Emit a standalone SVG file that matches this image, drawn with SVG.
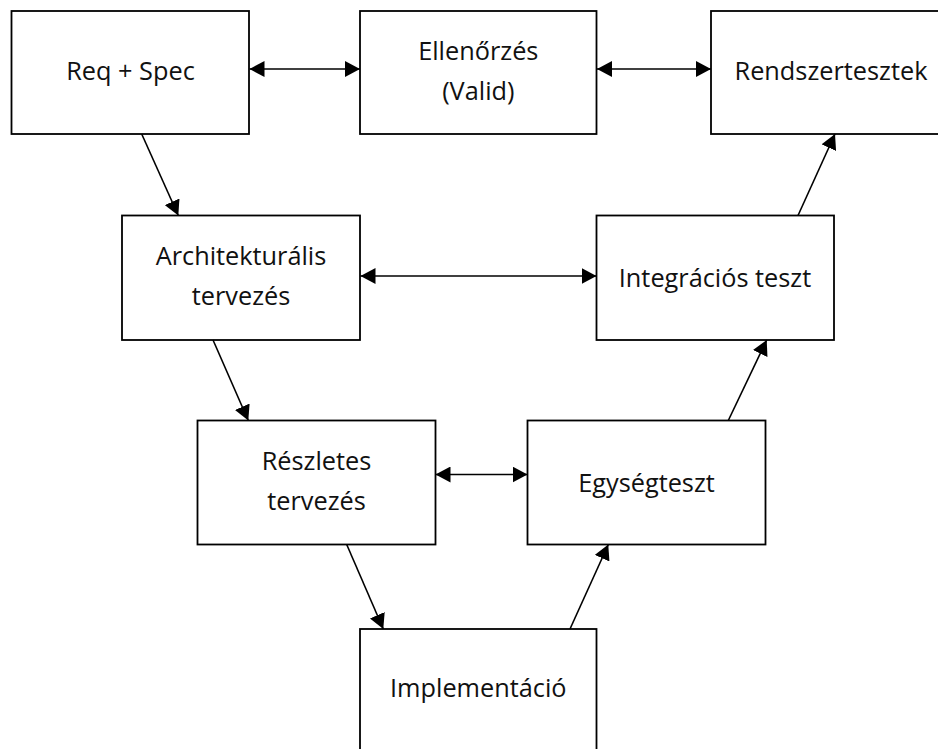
<svg xmlns="http://www.w3.org/2000/svg" width="938" height="749" viewBox="0 0 938 749">
  <style>
    .box { fill: #ffffff; stroke: #000000; stroke-width: 1.8; }
    .lbl { font-family: "Open Sans", "Noto Sans", "Liberation Sans", sans-serif; font-size: 25.3px; fill: #111111; text-anchor: middle; }
    .edge { stroke: #000000; stroke-width: 1.6; fill: none; }
    .one { marker-end: url(#head); }
    .two { marker-start: url(#tail); marker-end: url(#head); }
  </style>
  <defs>
    <marker id="head" viewBox="0 0 15 16" refX="15" refY="8" markerWidth="15" markerHeight="16" markerUnits="userSpaceOnUse" orient="auto">
      <path d="M0,0 L15,8 L0,16 Z" fill="#000000"/>
    </marker>
    <marker id="tail" viewBox="0 0 15 16" refX="0" refY="8" markerWidth="15" markerHeight="16" markerUnits="userSpaceOnUse" orient="auto">
      <path d="M15,0 L0,8 L15,16 Z" fill="#000000"/>
    </marker>
  </defs>
  <rect width="938" height="749" fill="#ffffff"/>

  <g id="req-spec">
    <rect class="box" x="11.5" y="11" width="237.5" height="123"/>
    <text class="lbl" x="130.5" y="80">Req + Spec</text>
  </g>
  <g id="ellenorzes">
    <rect class="box" x="360" y="11" width="236.5" height="123"/>
    <text class="lbl" x="478.3" y="60">Ellenőrzés</text>
    <text class="lbl" x="478.3" y="100">(Valid)</text>
  </g>
  <g id="rendszertesztek">
    <rect class="box" x="711" y="11" width="240" height="123"/>
    <text class="lbl" x="831" y="80">Rendszertesztek</text>
  </g>
  <g id="architekturalis">
    <rect class="box" x="122" y="215.5" width="238" height="124.5"/>
    <text class="lbl" x="241" y="265">Architekturális</text>
    <text class="lbl" x="241" y="305">tervezés</text>
  </g>
  <g id="integracios">
    <rect class="box" x="596.5" y="215.5" width="237.5" height="124.5"/>
    <text class="lbl" x="715" y="286.5">Integrációs teszt</text>
  </g>
  <g id="reszletes">
    <rect class="box" x="197.5" y="420.5" width="238" height="124"/>
    <text class="lbl" x="316.5" y="469.5">Részletes</text>
    <text class="lbl" x="316.5" y="510">tervezés</text>
  </g>
  <g id="egysegteszt">
    <rect class="box" x="527.5" y="420.5" width="238" height="124"/>
    <text class="lbl" x="646.5" y="491.5">Egységteszt</text>
  </g>
  <g id="implementacio">
    <rect class="box" x="360" y="629" width="236.5" height="140"/>
    <text class="lbl" x="478.3" y="696.5">Implementáció</text>
  </g>

  <g id="connectors">
    <line class="edge two" x1="249.5" y1="69" x2="360" y2="69"/>
    <line class="edge two" x1="597" y1="69" x2="711" y2="69"/>
    <line class="edge two" x1="360.5" y1="276" x2="596.5" y2="276"/>
    <line class="edge two" x1="435.5" y1="474.5" x2="527.5" y2="474.5"/>
    <line class="edge one" x1="141.7" y1="134" x2="178.3" y2="215.5"/>
    <line class="edge one" x1="213" y1="340" x2="248.3" y2="420.5"/>
    <line class="edge one" x1="346.7" y1="544.5" x2="383.3" y2="629"/>
    <line class="edge one" x1="570" y1="629" x2="608.3" y2="544.5"/>
    <line class="edge one" x1="728.3" y1="420.5" x2="766.7" y2="340"/>
    <line class="edge one" x1="798" y1="215.5" x2="835" y2="134"/>
  </g>
</svg>
